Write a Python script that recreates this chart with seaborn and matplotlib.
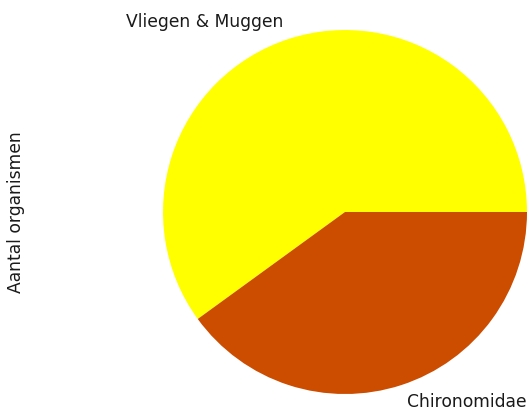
import matplotlib.pyplot as plt
import seaborn as sns

plt.switch_backend('Agg')

# Data
labels = ['Vliegen & Muggen', 'Chironomidae']
counts = [60, 40]
colors = ['#ffff00', '#cc4c00']

sns.set_theme(style='white', context='notebook')
plt.rcParams['text.color'] = '#1a1a1a'
plt.rcParams['axes.labelcolor'] = '#1a1a1a'

fs = 12.35

fig = plt.figure(figsize=(5.30, 4.18), dpi=100)
W, H = 530, 418
cx, cy, r = 345, 212, 182
size = 2.5 * r
ax = fig.add_axes([(cx - size / 2) / W, (H - cy - size / 2) / H, size / W, size / H])

ax.pie(counts, labels=labels, colors=colors, startangle=0, labeldistance=1.1,
       wedgeprops={'linewidth': 0}, textprops={'fontsize': fs})
ax.set_xlim(-1.25, 1.25)
ax.set_ylim(-1.25, 1.25)
ax.set_aspect('equal')

ax.set_ylabel('Aantal organismen', fontsize=fs)
ax.yaxis.set_label_coords((25 - (cx - size / 2)) / size, 0.5)

fig.savefig('out.png', dpi=100)
plt.close(fig)
